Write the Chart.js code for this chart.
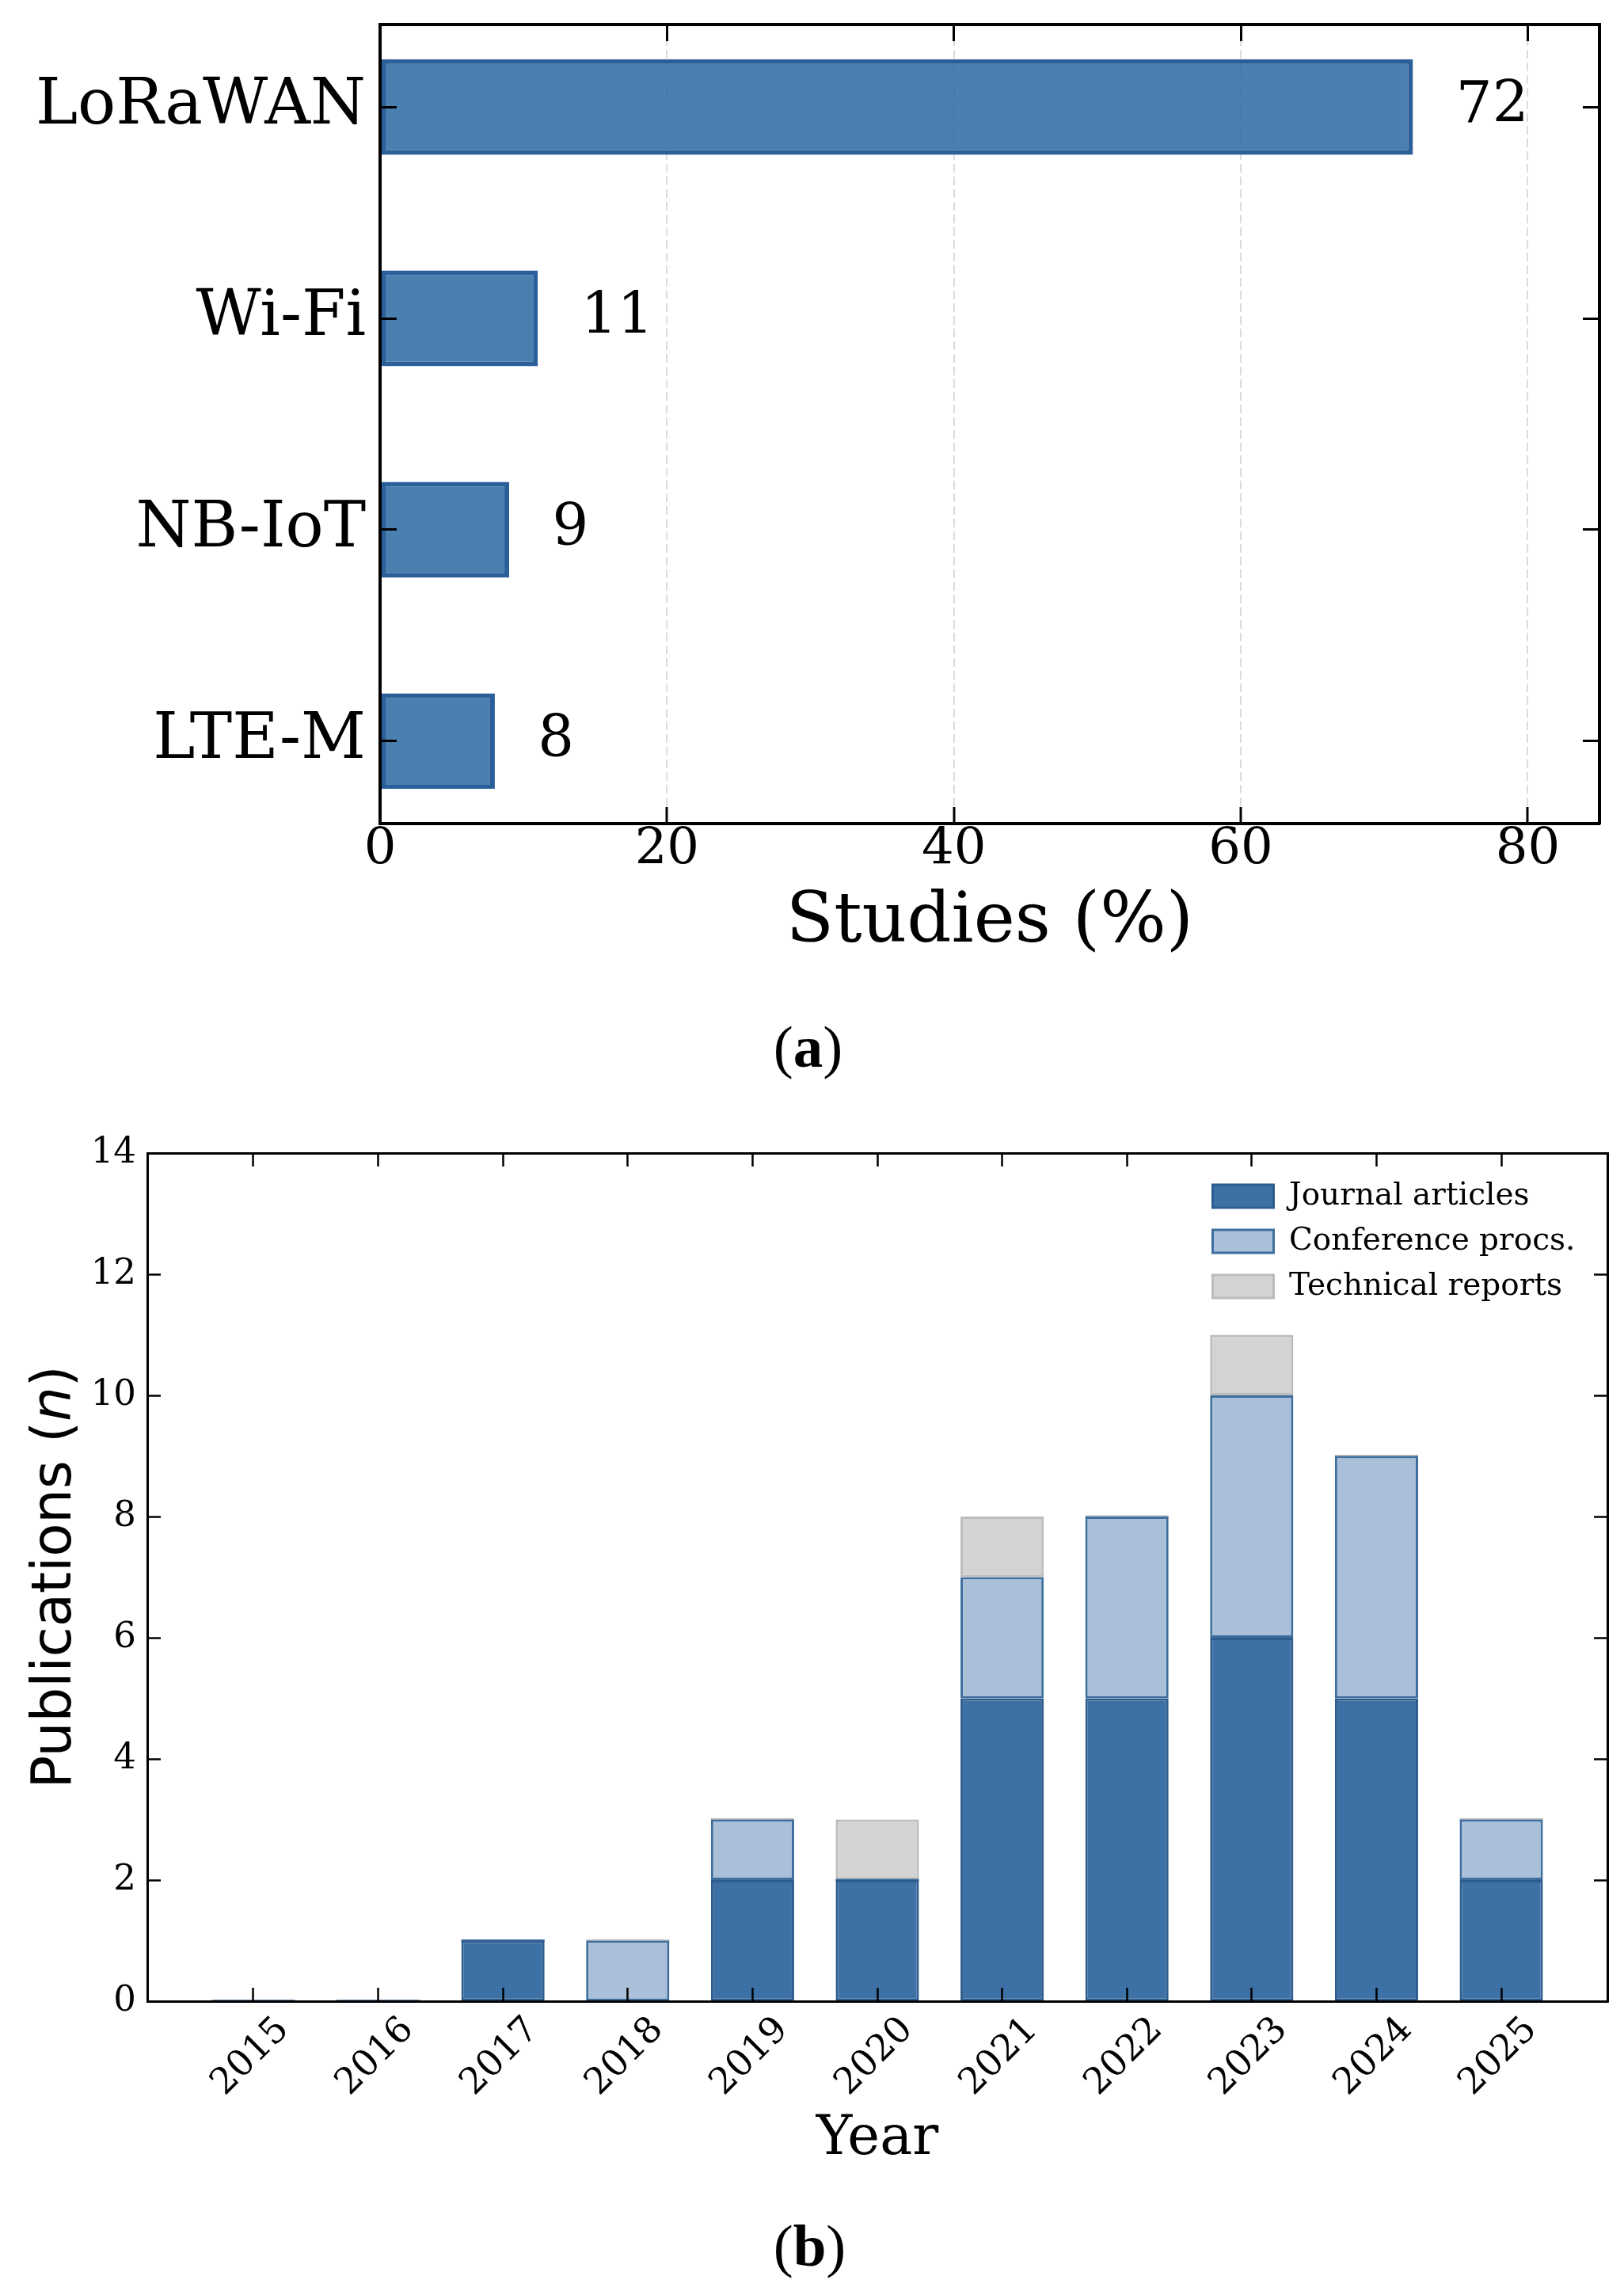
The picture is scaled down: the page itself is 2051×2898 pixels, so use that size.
<!DOCTYPE html>
<html>
<head>
<meta charset="utf-8">
<script src="https://cdn.jsdelivr.net/npm/chart.js@4.4.1/dist/chart.umd.min.js"></script>
<style>
  html, body { margin: 0; padding: 0; background: #ffffff; }
  body { width: 2051px; height: 2898px; position: relative; overflow: hidden; }
  #wa { position: absolute; left: 0; top: 0; width: 2051px; height: 1250px; }
  #wb { position: absolute; left: 0; top: 1380px; width: 2051px; height: 1400px; }
  .cap { position: absolute; width: 2051px; text-align: center; font-family: "Liberation Serif", serif;
         font-size: 75px; line-height: 75px; color: #000; }
  .cap b { font-weight: bold; }
</style>
</head>
<body>
<div id="wa"><canvas id="ca" width="2051" height="1250"></canvas></div>
<div class="cap" style="left:-5px; top:1284px;">(<b>a</b>)</div>
<div id="wb"><canvas id="cb" width="2051" height="1400"></canvas></div>
<div class="cap" style="left:-3px; top:2798px;">(<b>b</b>)</div>
<script>
// ---------------- DATA ----------------
// Panel (a)
const technologies = ['LoRaWAN', 'Wi-Fi', 'NB-IoT', 'LTE-M'];
const studiesPct = [72, 11, 9, 8];
const studiesTicks = [0, 20, 40, 60, 80];
// Panel (b)
const years = [2015, 2016, 2017, 2018, 2019, 2020, 2021, 2022, 2023, 2024, 2025];
const journalArticles   = [0, 0, 1, 0, 2, 2, 5, 5, 6, 5, 2];
const conferenceProcs   = [0, 0, 0, 1, 1, 0, 2, 3, 4, 4, 1];
const technicalReports  = [0, 0, 0, 0, 0, 1, 1, 0, 1, 0, 0];
const publicationTicks  = [0, 2, 4, 6, 8, 10, 12, 14];
const seriesLabels = ['Journal articles', 'Conference procs.', 'Technical reports'];
const yTitleParts = [['Publications (', 'normal'], ['n', 'italic'], [')', 'normal']];

// ---------------- STYLE ----------------
const SERIF = '"DejaVu Serif"';
Chart.defaults.font.family = SERIF;
Chart.defaults.color = '#000';

function fixBox(w, h) {
  return function (s) {
    if (w !== null) s.width = w;
    if (h !== null) s.height = h;
    s.paddingLeft = 0; s.paddingRight = 0; s.paddingTop = 0; s.paddingBottom = 0;
  };
}

// ---------------- PANEL (a) ----------------
const tickA = 21, tickWA = 3, frameA = 4;
const padA = 0.39;
const valueLabels = {
  id: 'valueLabels',
  afterDatasetsDraw(chart) {
    const ctx = chart.ctx, xs = chart.scales.x;
    const meta = chart.getDatasetMeta(0);
    ctx.save();
    ctx.font = '72px ' + SERIF;
    ctx.fillStyle = '#000';
    ctx.textAlign = 'left';
    ctx.textBaseline = 'alphabetic';
    meta.data.forEach((bar, i) => {
      ctx.fillText(String(studiesPct[i]), xs.getPixelForValue(studiesPct[i] + 3), bar.y + 19);
    });
    ctx.restore();
  }
};

const catTicks = (s) => { s.ticks = technologies.map((_, i) => ({ value: i })); };
const pctTicks = (s) => { s.ticks = studiesTicks.map(v => ({ value: v })); };

new Chart(document.getElementById('ca'), {
  type: 'bar',
  data: {
    datasets: [{
      label: 'Studies (%)',
      data: technologies.map((t, i) => ({ x: studiesPct[i], y: i })),
      backgroundColor: 'rgba(44,104,162,0.85)',
      borderColor: '#2a5f9a',
      borderWidth: 6,
      borderSkipped: false,
      barPercentage: 0.453,
      categoryPercentage: 1
    }]
  },
  options: {
    indexAxis: 'y',
    responsive: false,
    animation: false,
    events: [],
    layout: { padding: 0 },
    plugins: { legend: { display: false }, tooltip: { enabled: false } },
    scales: {
      x: {
        type: 'linear', position: 'bottom', min: 0, max: 85, offset: false,
        afterBuildTicks: pctTicks,
        afterFit: fixBox(null, 210),
        ticks: { font: { size: 64 }, color: '#000', padding: 17 },
        grid: { offset: false, color: '#dcdcdc', lineWidth: 2, drawOnChartArea: true, drawTicks: true,
                tickLength: -tickA, tickColor: '#000', tickWidth: tickWA, tickBorderDash: [], z: -1 },
        border: { display: true, color: '#000', width: frameA, dash: [11, 5], z: 1 },
        title: { display: true, text: 'Studies (%)', font: { size: 88 }, color: '#000',
                 padding: { top: 0, bottom: 31 } }
      },
      y: {
        type: 'linear', position: 'left', reverse: true, offset: false,
        min: -padA, max: technologies.length - 1 + padA,
        afterBuildTicks: catTicks,
        afterFit: fixBox(480, null),
        ticks: { font: { size: 80 }, color: '#000', padding: 39, callback: (v) => technologies[v] },
        grid: { offset: false, drawOnChartArea: false, drawTicks: true, tickLength: -tickA, tickColor: '#000',
                tickWidth: tickWA, z: 1 },
        border: { display: true, color: '#000', width: frameA, z: 1 }
      },
      x2: {
        type: 'linear', position: 'top', min: 0, max: 85, offset: false,
        afterBuildTicks: pctTicks,
        afterFit: fixBox(null, 31),
        ticks: { display: false },
        grid: { offset: false, drawOnChartArea: false, drawTicks: true, tickLength: -tickA, tickColor: '#000',
                tickWidth: tickWA, z: 1 },
        border: { display: true, color: '#000', width: frameA, z: 1 }
      },
      y2: {
        type: 'linear', position: 'right', reverse: true, offset: false,
        min: -padA, max: technologies.length - 1 + padA,
        afterBuildTicks: catTicks,
        afterFit: fixBox(31, null),
        ticks: { display: false },
        grid: { offset: false, drawOnChartArea: false, drawTicks: true, tickLength: -tickA, tickColor: '#000',
                tickWidth: tickWA, z: 1 },
        border: { display: true, color: '#000', width: frameA, z: 1 }
      }
    }
  },
  plugins: [valueLabels]
});

// ---------------- PANEL (b) ----------------
const tickB = 17, tickWB = 2.5, frameB = 3;
const padB = 0.85;
const yearTicks = (s) => { s.ticks = years.map(v => ({ value: v })); };
const pubTicks = (s) => { s.ticks = publicationTicks.map(v => ({ value: v })); };

const legendPlacer = {
  id: 'legendPlacer',
  afterLayout(chart) {
    const lg = chart.legend;
    if (!lg) return;
    const ca = chart.chartArea;
    lg.left = ca.left + 1327.5;
    lg.top = ca.top + 17;
    lg.width = 600; lg.height = 250;
    lg.right = lg.left + 600;
    lg.bottom = lg.top + 250;
  }
};

// zero-height segments still show their edge line (as in the source figure)
const zeroEdges = {
  id: 'zeroEdges',
  afterDatasetDraw(chart, args) {
    const ds = chart.data.datasets[args.index];
    const meta = args.meta;
    const ctx = chart.ctx;
    ctx.save();
    ctx.fillStyle = ds.borderColor;
    meta.data.forEach((bar, j) => {
      if (ds.data[j] === 0) {
        const w = bar.width, lw = ds.borderWidth;
        ctx.fillRect(bar.x - w / 2, bar.y - lw / 2, w, lw);
      }
    });
    ctx.restore();
  }
};

const yTitleB = {
  id: 'yTitleB',
  afterDraw(chart) {
    const ctx = chart.ctx, ca = chart.chartArea;
    ctx.save();
    ctx.translate(89, (ca.top + ca.bottom) / 2);
    ctx.rotate(-Math.PI / 2);
    ctx.fillStyle = '#000';
    ctx.textBaseline = 'alphabetic';
    ctx.textAlign = 'left';
    const fonts = yTitleParts.map(p => p[1] + ' 69px "DejaVu Sans"');
    const widths = yTitleParts.map((p, i) => { ctx.font = fonts[i]; return ctx.measureText(p[0]).width; });
    let x0 = -widths.reduce((a, b) => a + b, 0) / 2;
    yTitleParts.forEach((p, i) => { ctx.font = fonts[i]; ctx.fillText(p[0], x0, 0); x0 += widths[i]; });
    ctx.restore();
  }
};

const barStyle = { borderWidth: 3, borderSkipped: false, barPercentage: 0.667, categoryPercentage: 1 };

new Chart(document.getElementById('cb'), {
  type: 'bar',
  data: {
    labels: years,
    datasets: [
      Object.assign({ label: seriesLabels[0], data: journalArticles, backgroundColor: '#3d71a6', borderColor: '#2e5c8c' }, barStyle),
      Object.assign({ label: seriesLabels[1], data: conferenceProcs, backgroundColor: '#aac0d8', borderColor: '#3e6e9e' }, barStyle),
      Object.assign({ label: seriesLabels[2], data: technicalReports, backgroundColor: '#d3d3d3', borderColor: '#bcbcbc' }, barStyle)
    ]
  },
  options: {
    responsive: false,
    animation: false,
    events: [],
    layout: { padding: 0 },
    plugins: {
      legend: {
        display: true, position: 'chartArea', align: 'start',
        labels: { font: { size: 39, family: SERIF }, color: '#000', boxWidth: 77, boxHeight: 29, padding: 18 }
      },
      tooltip: { enabled: false }
    },
    scales: {
      x: {
        type: 'linear', position: 'bottom', stacked: true, offset: false,
        min: years[0] - padB, max: years[years.length - 1] + padB,
        afterBuildTicks: yearTicks,
        afterFit: fixBox(null, 253),
        ticks: { font: { size: 46 }, color: '#000', minRotation: 45, maxRotation: 45, autoSkip: false,
                 padding: 26.5, labelOffset: 38, callback: (v) => String(v) },
        grid: { offset: false, drawOnChartArea: false, drawTicks: true, tickLength: -tickB, tickColor: '#000', tickWidth: tickWB, z: 1 },
        border: { display: true, color: '#000', width: frameB, z: 1 },
        title: { display: true, text: 'Year', font: { size: 69 }, color: '#000', padding: { top: 0, bottom: 37 } }
      },
      y: {
        type: 'linear', position: 'left', stacked: true, min: 0, max: 14,
        afterBuildTicks: pubTicks,
        afterFit: fixBox(186, null),
        ticks: { font: { size: 45 }, color: '#000', padding: 31 },
        grid: { offset: false, drawOnChartArea: false, drawTicks: true, tickLength: -tickB, tickColor: '#000', tickWidth: tickWB, z: 1 },
        border: { display: true, color: '#000', width: frameB, z: 1 }
      },
      x2: {
        type: 'linear', position: 'top', offset: false,
        min: years[0] - padB, max: years[years.length - 1] + padB,
        afterBuildTicks: yearTicks,
        afterFit: fixBox(null, 76),
        ticks: { display: false },
        grid: { offset: false, drawOnChartArea: false, drawTicks: true, tickLength: -tickB, tickColor: '#000', tickWidth: tickWB, z: 1 },
        border: { display: true, color: '#000', width: frameB, z: 1 }
      },
      y2: {
        type: 'linear', position: 'right', min: 0, max: 14,
        afterBuildTicks: pubTicks,
        afterFit: fixBox(21, null),
        ticks: { display: false },
        grid: { offset: false, drawOnChartArea: false, drawTicks: true, tickLength: -tickB, tickColor: '#000', tickWidth: tickWB, z: 1 },
        border: { display: true, color: '#000', width: frameB, z: 1 }
      }
    }
  },
  plugins: [legendPlacer, zeroEdges, yTitleB]
});
</script>
</body>
</html>
